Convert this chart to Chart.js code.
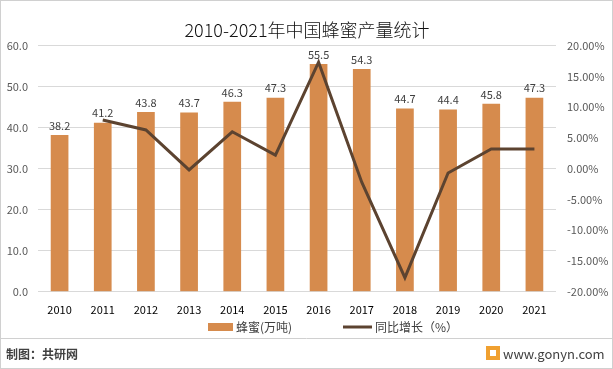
<!DOCTYPE html>
<html>
<head>
<meta charset="utf-8">
<script src="https://cdn.jsdelivr.net/npm/chart.js@4.4.1/dist/chart.umd.min.js"></script>
<style>
  html, body { margin: 0; padding: 0; background: #fff; }
  #wrap { width: 613px; height: 369px; position: relative; }
</style>
</head>
<body>
<div id="wrap"><canvas id="c" width="613" height="369"></canvas></div>
<script>
// data
const years = ['2010', '2011', '2012', '2013', '2014', '2015', '2016', '2017', '2018', '2019', '2020', '2021'];
const output = [38.2, 41.2, 43.8, 43.7, 46.3, 47.3, 55.5, 54.3, 44.7, 44.4, 45.8, 47.3];
const growth = [null, 7.9, 6.3, -0.2, 6.0, 2.2, 17.3, -2.2, -17.7, -0.7, 3.2, 3.2];

const barColor = '#D68B4D';
const lineColor = '#5C4330';
const font = "'Noto Sans CJK SC', 'Noto Sans', sans-serif";

// value labels above the bars
const barLabels = {
  id: 'barLabels',
  afterDatasetsDraw(chart) {
    const ctx = chart.ctx;
    const meta = chart.getDatasetMeta(1);
    ctx.save();
    ctx.font = '11px ' + font;
    ctx.fillStyle = '#404040';
    ctx.textAlign = 'center';
    ctx.textBaseline = 'bottom';
    meta.data.forEach((bar, i) => {
      ctx.fillText(output[i].toFixed(1), bar.x, bar.y - 4);
    });
    ctx.restore();
  }
};

// legend, footer, border
const decor = {
  id: 'decor',
  afterDraw(chart) {
    const ctx = chart.ctx;
    ctx.save();
    // legend
    const ly = 327;
    ctx.fillStyle = barColor;
    ctx.fillRect(208, ly - 4, 25, 8);
    ctx.font = '12px ' + font;
    ctx.fillStyle = '#404040';
    ctx.textBaseline = 'middle';
    ctx.fillText('蜂蜜(万吨)', 236, ly);
    ctx.strokeStyle = lineColor;
    ctx.lineWidth = 3;
    ctx.beginPath();
    ctx.moveTo(343, ly);
    ctx.lineTo(372, ly);
    ctx.stroke();
    ctx.fillText('同比增长（%）', 375, ly);

    // footer
    ctx.strokeStyle = '#d0d0d0';
    ctx.lineWidth = 1;
    ctx.beginPath();
    ctx.moveTo(0, 338.5);
    ctx.lineTo(613, 338.5);
    ctx.stroke();
    ctx.font = 'bold 12px ' + font;
    ctx.fillStyle = '#404040';
    ctx.fillText('制图：共研网', 6, 354);
    ctx.fillStyle = '#F0A030';
    ctx.fillRect(486, 346, 14, 14);
    ctx.fillStyle = '#fff';
    ctx.fillRect(490, 350, 6, 6);
    ctx.font = '13px ' + font;
    ctx.fillStyle = '#404040';
    ctx.fillText('www.gonyn.com', 503, 354);

    // outer border
    ctx.strokeStyle = '#d0d0d0';
    ctx.strokeRect(0.5, 0.5, 612, 368);
    ctx.restore();
  }
};

new Chart(document.getElementById('c'), {
  data: {
    labels: years,
    datasets: [
      {
        type: 'line',
        label: '同比增长（%）',
        data: growth,
        yAxisID: 'y2',
        borderColor: lineColor,
        borderWidth: 3,
        pointRadius: 0,
        tension: 0,
        order: 0
      },
      {
        type: 'bar',
        label: '蜂蜜(万吨)',
        data: output,
        yAxisID: 'y',
        backgroundColor: barColor,
        categoryPercentage: 0.82,
        barPercentage: 0.5,
        order: 1
      }
    ]
  },
  options: {
    responsive: false,
    animation: false,
    layout: { padding: { left: 1, right: 0, top: 11, bottom: 50 } },
    plugins: {
      legend: { display: false },
      tooltip: { enabled: false },
      title: {
        display: true,
        text: '2010-2021年中国蜂蜜产量统计',
        color: '#111',
        font: { family: font, size: 18, weight: '300' },
        padding: { top: 8, bottom: 5 }
      }
    },
    scales: {
      x: {
        grid: { display: false },
        border: { display: false },
        ticks: { color: '#000', font: { family: font, size: 11 }, maxRotation: 0, padding: 3 }
      },
      y: {
        position: 'left',
        min: 0,
        max: 60,
        afterFit: s => { s.width = 37; },
        ticks: {
          stepSize: 10,
          color: '#595959',
          font: { family: font, size: 11 },
          padding: 10,
          callback: v => v.toFixed(1)
        },
        grid: { color: '#d9d9d9', drawTicks: false },
        border: { display: false }
      },
      y2: {
        position: 'right',
        min: -20,
        max: 20,
        afterFit: s => { s.width = 57; },
        ticks: {
          stepSize: 5,
          color: '#595959',
          font: { family: font, size: 11 },
          padding: 11,
          callback: v => v.toFixed(2) + '%'
        },
        grid: { display: false, drawTicks: false },
        border: { display: false }
      }
    }
  },
  plugins: [barLabels, decor]
});
</script>
</body>
</html>
